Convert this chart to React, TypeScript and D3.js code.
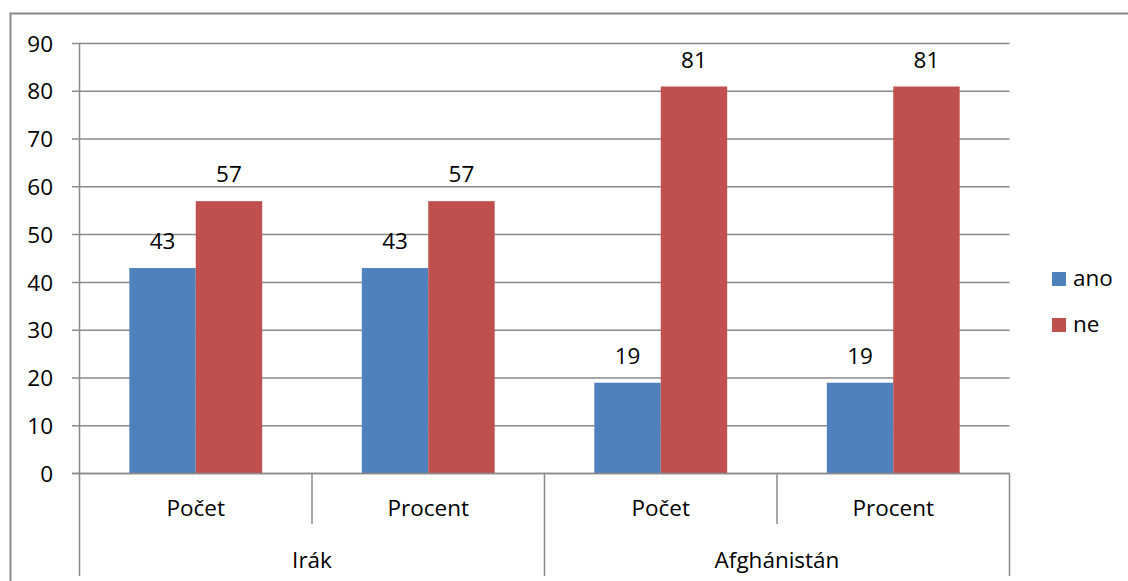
import React from "react";
import * as d3 from "d3";

const groups = ["Irák", "Afghánistán"];
const subCategories = ["Počet", "Procent", "Počet", "Procent"];
const categoryGroup = [0, 0, 1, 1];
const seriesNames = ["ano", "ne"];
const seriesColors = ["#4F81BD", "#C0504D"];
const anoValues = [43, 43, 19, 19];
const neValues = [57, 57, 81, 81];
const yTicks = [0, 10, 20, 30, 40, 50, 60, 70, 80, 90];

const W = 1128;
const H = 581;
const FONT = "'Open Sans', 'Noto Sans', sans-serif";
const FS = 22.5;
const GRID = "#8a8a8a";

export default function App() {
  const x0 = 79.5;
  const x1 = 1009.5;
  const yBottom = 473.5;
  const yTop = 43.5;
  const y = d3.scaleLinear().domain([0, 90]).range([yBottom, yTop]);
  const idx = subCategories.map((_, i) => i);
  const x = d3.scaleBand<number>().domain(idx).range([x0, x1]).paddingInner(0).paddingOuter(0);
  const inner = d3
    .scaleBand<number>()
    .domain([0, 1])
    .range([0, x.bandwidth()])
    .paddingOuter(0.75)
    .paddingInner(0);
  const series = [anoValues, neValues];

  const groupBounds = groups.map((g, gi) => {
    const members = idx.filter((i) => categoryGroup[i] === gi);
    const start = x(members[0])!;
    const end = x(members[members.length - 1])! + x.bandwidth();
    return { g, start, end };
  });

  return (
    <svg
      width={W}
      height={H}
      style={{ position: "absolute", left: 0, top: 0, background: "#fff" }}
      fontFamily={FONT}
    >
      <rect x={0} y={0} width={W} height={H} fill="#fff" />
      {/* outer frame */}
      <rect x={10.5} y={13.5} width={W + 20} height={H + 20} fill="none" stroke={GRID} strokeWidth={2} />
      {/* gridlines */}
      {yTicks.map((t) => (
        <g key={t}>
          <line x1={72} x2={x1} y1={y(t)} y2={y(t)} stroke={GRID} strokeWidth={1.5} />
          <text
            x={53}
            y={y(t) + 8.2}
            textAnchor="end"
            fontSize={FS}
            fill="#000"
          >
            {t}
          </text>
        </g>
      ))}
      {/* bars */}
      {series.map((vals, si) =>
        vals.map((v, i) => {
          const bx = x(i)! + inner(si)!;
          return (
            <g key={`${si}-${i}`}>
              <rect
                x={bx}
                y={y(v)}
                width={inner.bandwidth()}
                height={yBottom - y(v)}
                fill={seriesColors[si]}
              />
              <text
                x={bx + inner.bandwidth() / 2}
                y={y(v) - 19}
                textAnchor="middle"
                fontSize={FS}
                fill="#000"
              >
                {v}
              </text>
            </g>
          );
        })
      )}
      {/* axis line */}
      <line x1={72} x2={x1} y1={yBottom} y2={yBottom} stroke={GRID} strokeWidth={1.5} />
      <line x1={x0} x2={x0} y1={yTop} y2={576} stroke={GRID} strokeWidth={1.5} />
      {/* category separators */}
      {idx.map((i) => {
        const xe = x(i)! + x.bandwidth();
        const isGroupEnd = i === idx.length - 1 || categoryGroup[i] !== categoryGroup[i + 1];
        return (
          <line
            key={`sep-${i}`}
            x1={xe}
            x2={xe}
            y1={yBottom}
            y2={isGroupEnd ? 576 : 524}
            stroke={GRID}
            strokeWidth={1.5}
          />
        );
      })}
      {/* sub category labels */}
      {subCategories.map((c, i) => (
        <text
          key={`sc-${i}`}
          x={x(i)! + x.bandwidth() / 2}
          y={516}
          textAnchor="middle"
          fontSize={FS}
          fill="#000"
        >
          {c}
        </text>
      ))}
      {/* group labels */}
      {groupBounds.map((b) => (
        <text
          key={b.g}
          x={(b.start + b.end) / 2}
          y={568}
          textAnchor="middle"
          fontSize={FS}
          fill="#000"
        >
          {b.g}
        </text>
      ))}
      {/* legend */}
      {seriesNames.map((s, si) => (
        <g key={s} transform={`translate(1052, ${272 + si * 46})`}>
          <rect x={0} y={0} width={14} height={14} fill={seriesColors[si]} />
          <text x={21} y={13.7} fontSize={FS} fill="#000">
            {s}
          </text>
        </g>
      ))}
    </svg>
  );
}
